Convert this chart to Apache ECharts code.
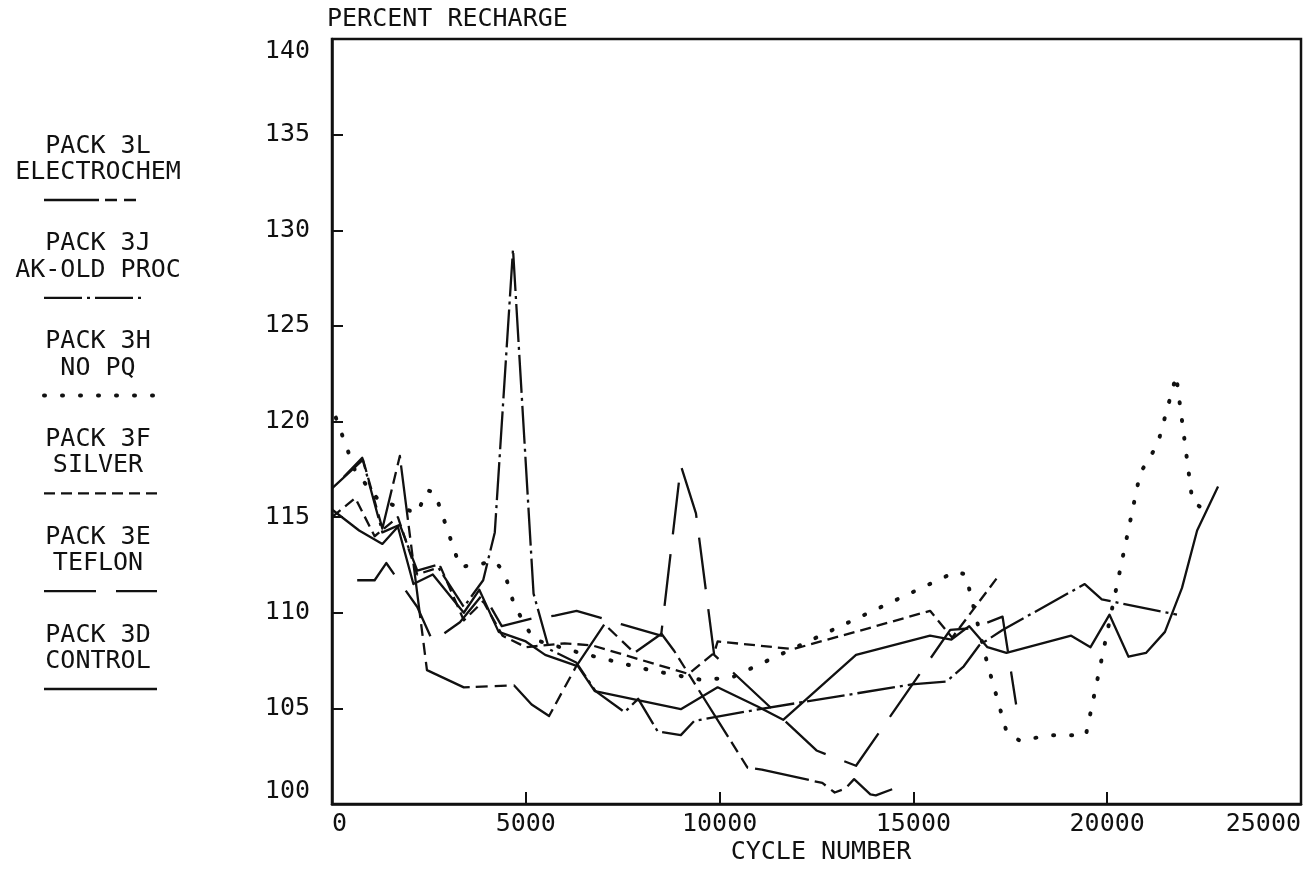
<!DOCTYPE html>
<html>
<head>
<meta charset="utf-8">
<script src="https://cdn.jsdelivr.net/npm/echarts@6/dist/echarts.min.js"></script>
<style>
  html, body { margin: 0; padding: 0; background: #fff; }
  #chart { width: 1310px; height: 871px; }
</style>
</head>
<body>
<div id="chart"></div>
<script>
// Percent recharge vs. cycle number for six battery packs
const xTicks = [0, 5000, 10000, 15000, 20000, 25000];
const yTicks = [100, 105, 110, 115, 120, 125, 130, 135, 140];

const packNames = ['PACK 3L', 'PACK 3J', 'PACK 3H', 'PACK 3F', 'PACK 3E', 'PACK 3D'];
const packLabels = ['ELECTROCHEM', 'AK-OLD PROC', 'NO PQ', 'SILVER', 'TEFLON', 'CONTROL'];

// [cycle number, percent recharge]
const electrochem = [[0,116.5],[800,118.0],[1300,114.4],[1750,118.2],[2450,107.0],[3400,106.1],[4700,106.2],[5150,105.2],[5600,104.6],[6300,107.2],[7030,109.4],[7800,107.9],[8500,108.9],[8830,108.0],[10720,101.9],[11090,101.8],[12650,101.1],[12970,100.6],[13240,100.8],[13470,101.3],[13890,100.5],[14030,100.45],[14490,100.8],[14520,101.0]];
const akOldProc = [[300,117.1],[780,118.1],[1300,114.2],[1750,114.6],[2200,112.2],[2700,112.5],[3400,110.3],[3900,111.7],[4200,114.2],[4670,129.0],[5200,111.0],[5600,108.1],[6300,107.4],[6800,105.9],[7550,104.8],[7900,105.5],[8400,103.8],[9000,103.6],[9350,104.35],[11000,104.95],[14950,106.25],[15850,106.4],[16300,107.2],[16700,108.3],[17300,109.1],[19420,111.5],[19860,110.7],[21800,109.9]];
const noPq = [[100,120.2],[600,117.4],[1200,115.9],[2200,115.2],[2450,116.4],[2650,116.3],[3300,112.4],[3700,112.5],[4200,112.7],[4450,112.1],[4700,110.4],[5200,108.6],[6400,107.9],[8200,107.0],[9500,106.5],[10300,106.6],[16100,112.15],[16350,112.0],[16900,107.4],[17400,103.8],[17750,103.3],[18500,103.6],[19450,103.6],[20850,117.3],[21300,118.8],[21780,122.4],[22200,115.8],[22500,115.4]];
const silver = [[0,115.0],[600,116.0],[1100,114.0],[1700,115.0],[2200,112.0],[2800,112.4],[3400,109.6],[3900,110.6],[4400,108.8],[5000,108.2],[6000,108.4],[6700,108.3],[9200,106.8],[9860,107.9],[9950,108.5],[11900,108.1],[13860,109.2],[15430,110.1],[16000,108.7],[17150,111.8]];
const teflon = [[650,111.7],[1100,111.7],[1400,112.6],[2200,110.3],[2600,108.5],[3300,109.5],[3900,111.0],[4380,109.3],[5150,109.7],[5750,109.85],[6310,110.1],[6990,109.7],[7460,109.4],[8490,108.8],[9000,117.7],[9390,115.2],[9860,107.8],[12500,102.8],[13000,102.4],[13520,102.0],[15950,109.1],[16560,109.2],[17300,109.8],[17650,105.2]];
const control = [[0,115.4],[700,114.3],[1300,113.6],[1700,114.5],[2100,111.5],[2600,112.0],[3400,110.0],[3800,111.2],[4300,109.0],[5000,108.5],[5500,107.8],[6350,107.2],[6780,105.9],[9000,104.96],[9950,106.1],[10980,105.1],[11640,104.4],[13520,107.8],[15430,108.8],[15980,108.6],[16440,109.3],[16910,108.2],[17400,107.9],[19070,108.8],[19570,108.2],[20060,109.9],[20550,107.7],[21000,107.9],[21490,109.0],[21930,111.3],[22320,114.3],[22860,116.6]];

const seriesData = [electrochem, akOldProc, noPq, silver, teflon, control];
// dash patterns for each pack, in the same order as the names
const dashes = [
  [55, 6, 12, 7, 12, 7],
  [38, 5, 3, 5],
  [1, 17],
  [11, 6],
  [52, 20],
  'solid'
];
const caps = ['butt', 'butt', 'round', 'butt', 'butt', 'butt'];
const widths = [2.3, 2.3, 4, 2.3, 2.3, 2.3];

const FONT = '"DejaVu Sans Mono", monospace';
const INK = '#111';

const chart = echarts.init(document.getElementById('chart'), null, { renderer: 'canvas' });

const series = seriesData.map((d, i) => ({
  name: packLabels[i],
  type: 'line',
  data: d,
  showSymbol: false,
  silent: true,
  animation: false,
  lineStyle: { color: INK, width: widths[i], type: dashes[i], cap: caps[i], join: 'round' }
}));

// legend block on the left: name, description and a line sample
const graphics = [];
packNames.forEach((n, i) => {
  const top = 146 + 97.8 * i;
  graphics.push({ type: 'text', style: { text: n, x: 98, y: top, fill: INK, font: '25px ' + FONT, textAlign: 'center', textVerticalAlign: 'middle' } });
  graphics.push({ type: 'text', style: { text: packLabels[i], x: 98, y: top + 26.5, fill: INK, font: '25px ' + FONT, textAlign: 'center', textVerticalAlign: 'middle' } });
  const x1 = 44, x2 = i === 0 ? 140 : (i === 1 ? 145 : 157);
  graphics.push({
    type: 'line',
    shape: { x1: x1, y1: top + 54, x2: x2, y2: top + 54 },
    style: { stroke: INK, lineWidth: widths[i], lineDash: dashes[i] === 'solid' ? null : dashes[i], lineCap: caps[i] }
  });
});
graphics.push({ type: 'text', style: { text: 'PERCENT RECHARGE', x: 327, y: 19, fill: INK, font: '25px ' + FONT, textAlign: 'left', textVerticalAlign: 'middle' } });
graphics.push({ type: 'text', style: { text: 'CYCLE NUMBER', x: 821, y: 852, fill: INK, font: '25px ' + FONT, textAlign: 'center', textVerticalAlign: 'middle' } });

chart.setOption({
  backgroundColor: '#fff',
  animation: false,
  grid: { left: 332, top: 39, width: 969, height: 765, show: true, borderColor: INK, borderWidth: 2.5, backgroundColor: 'transparent' },
  xAxis: {
    type: 'value', min: xTicks[0], max: xTicks[xTicks.length - 1], interval: 5000,
    axisLine: { show: true, lineStyle: { color: INK, width: 2.5 } },
    axisTick: { show: true, inside: true, length: 12, lineStyle: { color: INK, width: 2 } },
    splitLine: { show: false },
    axisLabel: { color: INK, fontFamily: FONT, fontSize: 25, margin: 8, alignMinLabel: 'left', alignMaxLabel: 'right', formatter: v => String(v) }
  },
  yAxis: {
    type: 'value', min: yTicks[0], max: yTicks[yTicks.length - 1], interval: 5,
    axisLine: { show: true, lineStyle: { color: INK, width: 2.5 } },
    axisTick: { show: true, inside: true, length: 11, lineStyle: { color: INK, width: 2 } },
    splitLine: { show: false },
    axisLabel: { color: INK, fontFamily: FONT, fontSize: 25, margin: 22, verticalAlignMaxLabel: 'top', verticalAlignMinLabel: 'bottom', formatter: v => String(v) }
  },
  graphic: graphics,
  series: series
});
</script>
</body>
</html>
